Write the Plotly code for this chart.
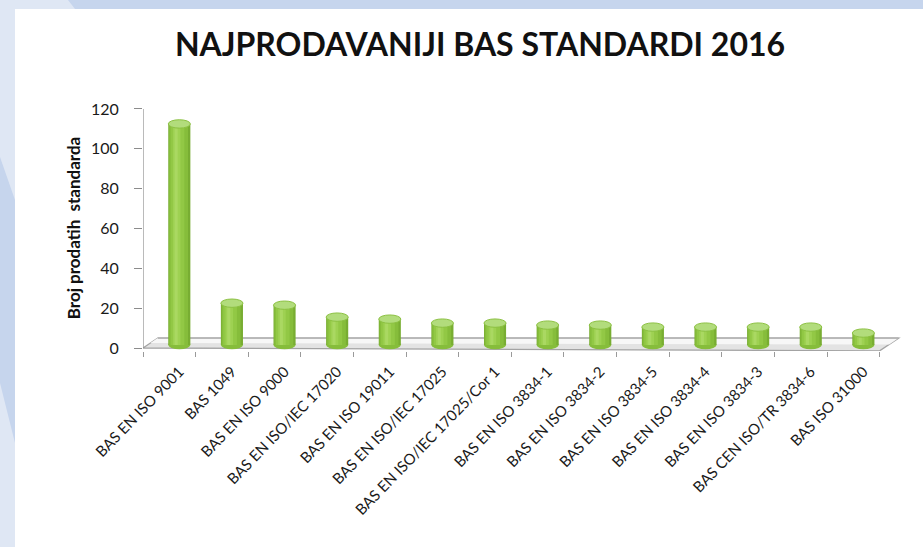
import plotly.graph_objects as go

# ---------------- data ----------------
categories = [
    "BAS EN ISO 9001", "BAS 1049", "BAS EN ISO 9000", "BAS EN ISO/IEC 17020",
    "BAS EN ISO 19011", "BAS EN ISO/IEC 17025", "BAS EN ISO/IEC 17025/Cor 1",
    "BAS EN ISO 3834-1", "BAS EN ISO 3834-2", "BAS EN ISO 3834-5",
    "BAS EN ISO 3834-4", "BAS EN ISO 3834-3", "BAS CEN ISO/TR 3834-6",
    "BAS ISO 31000",
]
values = [111, 21, 20, 14, 13, 11, 11, 10, 10, 9, 9, 9, 9, 6]
y_ticks = [0, 20, 40, 60, 80, 100, 120]
title_text = "NAJPRODAVANIJI BAS STANDARDI 2016"
y_title = "Broj prodatih  standarda"

# ---------------- layout geometry ----------------
W, H = 923, 547
ML, MR, MT, MB = 143, 17, 105, 196
PW, PH = W - ML - MR, H - MT - MB
XR = [-0.5, 14.0]
YR = [-1.5, 122]

def pxx(xp):
    return (xp - ML) / PW

def pxy(yp):
    return (H - MB - yp) / PH

FONT = "Lato"
idx = list(range(len(categories)))
shift = 0.19          # 3D depth offset of the cylinders
bw = 0.42             # cylinder width
base = 1.5            # cylinders stand on the middle of the floor
ell = 2.1             # half height of the cylinder caps (data units)

fig = go.Figure()

# cylinder body built from layered bars for shading
layers = [
    (bw, 0.0, "#78ad32"),
    (bw * 0.86, -0.015, "#86bd3b"),
    (bw * 0.62, -0.035, "#92c845"),
    (bw * 0.34, -0.05, "#9ed152"),
    (bw * 0.14, -0.06, "#aad862"),
]
for w, dx, col in layers:
    fig.add_trace(go.Bar(
        x=[i + shift + dx for i in idx],
        y=values,
        base=base,
        width=w,
        marker=dict(color=col, line=dict(width=0)),
        showlegend=False,
        hoverinfo="skip",
    ))

shapes = []
# background frame
shapes.append(dict(type="rect", xref="paper", yref="paper",
                   x0=pxx(15), x1=pxx(W), y0=pxy(H), y1=pxy(9),
                   fillcolor="white", line=dict(width=0), layer="below"))
shapes.append(dict(type="path", xref="paper", yref="paper",
                   path=f"M {pxx(68)},{pxy(0)} L {pxx(W)},{pxy(0)} L {pxx(W)},{pxy(9)} L {pxx(75)},{pxy(9)} Z",
                   fillcolor="#c6d5ed", line=dict(width=0), layer="below"))
shapes.append(dict(type="path", xref="paper", yref="paper",
                   path=f"M {pxx(0)},{pxy(157)} L {pxx(15)},{pxy(200)} L {pxx(15)},{pxy(443)} L {pxx(0)},{pxy(383)} Z",
                   fillcolor="#c6d5ed", line=dict(width=0), layer="below"))

# floor of the 3D chart
shapes.append(dict(type="path", xref="x", yref="y",
                   path="M -0.5,0 L -0.22,5 L 13.86,5 L 13.5,-1.4 Z",
                   fillcolor="#e3e3e3", line=dict(color="#a3a3a3", width=1.3), layer="below"))
shapes.append(dict(type="path", xref="x", yref="y",
                   path="M -0.36,2.5 L -0.22,5 L 13.86,5 L 13.68,1.8 Z",
                   fillcolor="#f7f7f7", line=dict(width=0), layer="below"))
shapes.append(dict(type="path", xref="x", yref="y",
                   path="M -0.22,5 L 13.86,5",
                   line=dict(color="#a3a3a3", width=1.2), layer="below"))
# y axis line
shapes.append(dict(type="line", xref="x", yref="y", x0=-0.5, x1=-0.5, y0=0, y1=120,
                   line=dict(color="#8c8c8c", width=1.2), layer="below"))

# cylinder bottoms and tops
for i, v in zip(idx, values):
    cx = i + shift
    shapes.append(dict(type="circle", xref="x", yref="y",
                       x0=cx - bw / 2, x1=cx + bw / 2, y0=base - ell, y1=base + ell,
                       fillcolor="#86bd3b", line=dict(width=0), layer="below"))
for i, v in zip(idx, values):
    cx = i + shift
    top = base + v
    shapes.append(dict(type="circle", xref="x", yref="y",
                       x0=cx - bw / 2, x1=cx + bw / 2, y0=top - ell, y1=top + ell,
                       fillcolor="#b2dc7c", line=dict(color="#8cc142", width=1), layer="above"))

fig.update_layout(
    width=W, height=H,
    margin=dict(l=ML, r=MR, t=MT, b=MB, pad=0),
    paper_bgcolor="#dfe7f4",
    plot_bgcolor="rgba(0,0,0,0)",
    barmode="overlay",
    shapes=shapes,
    showlegend=False,
    title=dict(text=f"<b>{title_text}</b>", x=480 / W, xref="container", xanchor="center",
               y=1 - 45 / H, yref="container", yanchor="middle",
               font=dict(family=FONT, size=32, color="#111111")),
    xaxis=dict(
        range=XR, showgrid=False, zeroline=False, showline=False,
        tickmode="array", tickvals=[i + shift for i in idx], ticktext=categories,
        tickangle=-46, ticks="", ticklabelstandoff=8,
        tickfont=dict(family=FONT, size=15, color="#1a1a1a"),
        minor=dict(tickmode="array", tickvals=[i - 0.5 for i in range(len(categories) + 1)],
                   ticks="outside", ticklen=5, tickcolor="#9a9a9a", tickwidth=1.2, showgrid=False),
    ),
    yaxis=dict(
        range=YR, showgrid=False, zeroline=False, showline=False,
        tickmode="array", tickvals=y_ticks,
        ticks="outside", ticklen=8, tickcolor="#8c8c8c", tickwidth=1.2,
        ticklabelstandoff=12,
        tickfont=dict(family=FONT, size=16, color="#1a1a1a"),
        title=dict(text=f"<b>{y_title}</b>", standoff=6,
                   font=dict(family=FONT, size=17, color="#111111")),
    ),
)

fig.write_html("out.html")
